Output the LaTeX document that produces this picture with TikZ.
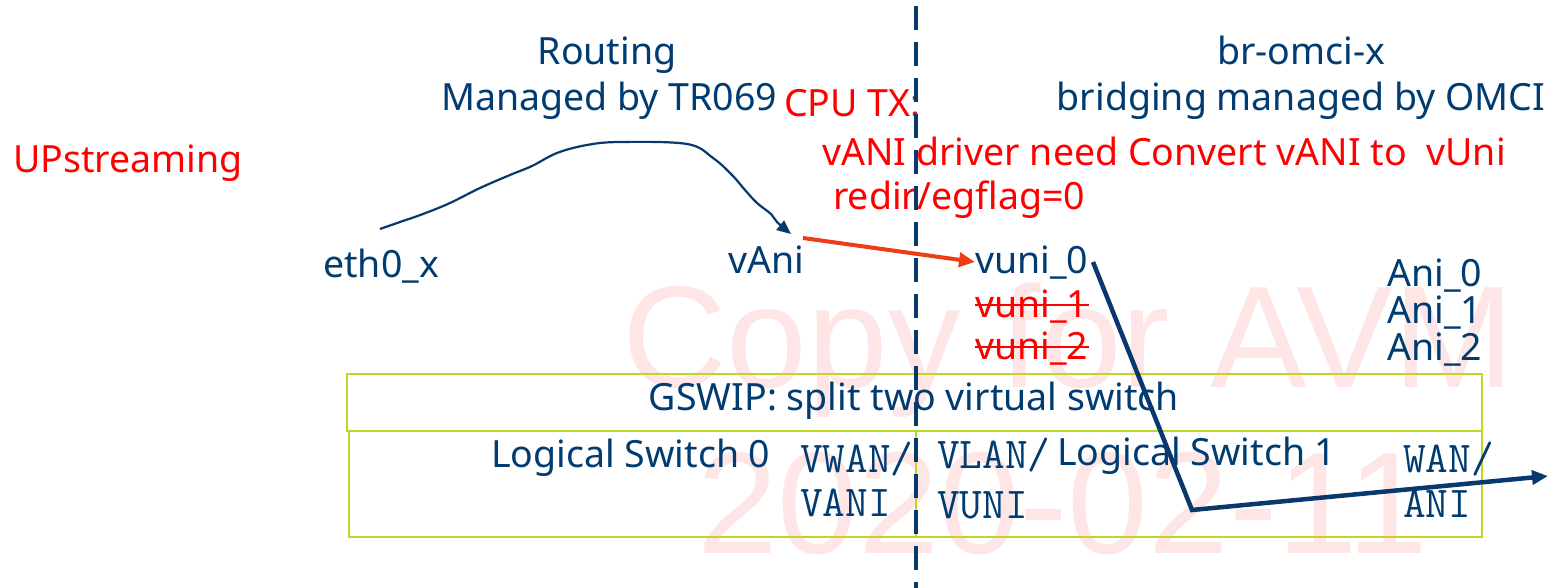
\documentclass[tikz,border=0pt]{standalone}
\usepackage{fontspec}
\setmainfont{Noto Sans}
\newfontfamily\wmfont{Liberation Sans}
\usetikzlibrary{arrows.meta,calc}

\definecolor{ink}{RGB}{0,60,113}
\definecolor{wire}{RGB}{8,56,108}
\definecolor{alert}{RGB}{255,0,0}
\definecolor{txarrow}{RGB}{240,60,20}
\definecolor{boxline}{RGB}{190,214,40}
\definecolor{stamp}{RGB}{254,230,230}

\tikzset{
  lbl/.style={inner sep=0pt, anchor=base west, text=ink, font=\fontsize{37.5}{42}\selectfont},
  lblc/.style={lbl, anchor=base},
  note/.style={lbl, text=alert},
  port/.style={inner sep=0pt, anchor=base west, text=ink, font=\ttfamily\fontsize{44}{48}\selectfont},
  stamptext/.style={inner sep=0pt, anchor=base west, text=stamp, font=\wmfont\fontsize{145}{150}\selectfont},
  swbox/.style={draw=boxline, line width=2pt},
  flow/.style={draw=wire, line width=4.5pt, -{Triangle[length=16pt,width=14pt]}},
}

\begin{document}
\begin{tikzpicture}[x=1pt,y=-1pt]
\useasboundingbox (0,0) rectangle (1548,588);

% watermark in the background
\node[stamptext] (wm1) at (622,387) {Copy for AVM};
\node[stamptext] (wm2) at (697,553) {2020-02-11};

% GSWIP boxes
\draw[swbox] (347,374) rectangle (1482,431);
\draw[swbox] (349,431) rectangle (1482,537);
\draw[swbox] (916,431) -- (916,537);

% headings
\node[lblc] (routing) at (607,65) {Routing};
\node[lblc] (tr069) at (609,111) {Managed by TR069};
\node[lblc] (bromci) at (1301,65) {br-omci-x};
\node[lblc] (omci) at (1301,111) {bridging managed by OMCI};

% red notes
\node[note] (up) at (13,173) {UPstreaming};
\node[note] (cputx) at (784,117) {CPU TX:};
\node[note] (conv) at (822,166) {vANI driver need Convert vANI to\ \ vUni};
\node[note] (redir) at (833,210) {redir/egflag=0};

% interfaces
\node[lbl] (eth) at (323,277) {eth0\_x};
\node[lbl] (vani) at (728,273) {vAni};
\node[lbl] (vuni0) at (975,273) {vuni\_0};
\node[note] (vuni1) at (975,317) {vuni\_1};
\node[note] (vuni2) at (975,359) {vuni\_2};
\draw[alert, line width=2.5pt] ($(vuni1.base west)+(0,-12)$) -- ($(vuni1.base east)+(0,-12)$);
\draw[alert, line width=2.5pt] ($(vuni2.base west)+(0,-12)$) -- ($(vuni2.base east)+(0,-12)$);
\node[lbl] (ani0) at (1387,287) {Ani\_0};
\node[lbl] (ani1) at (1387,323) {Ani\_1};
\node[lbl] (ani2) at (1387,360) {Ani\_2};

% switch labels
\node[lblc] (gswip) at (914,410) {GSWIP: split two virtual switch};
\node[lbl] (ls0) at (491,467) {Logical Switch 0};
\node[lbl] (ls1) at (1057,465) {Logical Switch 1};
\node[port] (vwan) at (800,472) {VWAN/};
\node[port] (vaniport) at (800,516) {VANI};
\node[port] (vlan) at (937,468) {VLAN/};
\node[port] (vuniport) at (937,518) {VUNI};
\node[port] (wan) at (1403,472) {WAN/};
\node[port] (aniport) at (1403,517) {ANI};

% routing path eth0_x -> vAni
\coordinate (rtstart) at (380,229);
\coordinate (rtend) at (791,234);
\draw[wire, line width=2.2pt, -{Triangle[length=14pt,width=12pt]}]
  plot[smooth, tension=0.6] coordinates {(rtstart) (400,222) (423,214) (450,203) (480,188)
   (510,175) (532,166) (557,153) (587,145) (620,142) (687,144) (713,158) (732,175)
   (745,190) (757,203) (771,214) (777,222) (rtend)};

% CPU TX redirect vAni -> vuni_0
\coordinate (txstart) at (803,238);
\draw[txarrow, line width=4pt, -{Triangle[length=16pt,width=14pt]}] (txstart) -- (vuni0.west |- 0,262);

% bridged upstream path
\coordinate (pstart) at (1093,262);
\coordinate (pbend) at (1192,510);
\coordinate (pend) at (1548,476);
\draw[flow] (pstart) -- (pbend) -- (pend);

% separator between routing and bridging domains
\draw[wire, line width=4pt, dash pattern=on 24pt off 12pt] (916,6) -- (916,588);
\end{tikzpicture}
\end{document}
